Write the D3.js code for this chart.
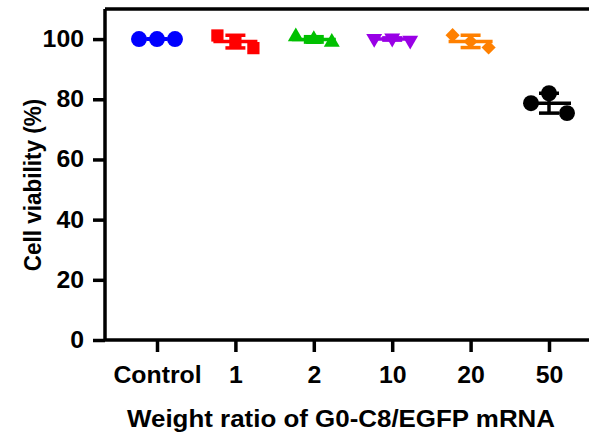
<!DOCTYPE html>
<html>
<head>
<meta charset="utf-8">
<script src="https://cdn.jsdelivr.net/npm/d3@7"></script>
<style>
  html, body { margin: 0; padding: 0; background: #fff; }
  svg { display: block; }
  text { font-family: "Liberation Sans", Arial, sans-serif; font-weight: bold; fill: #000; }
</style>
</head>
<body>
<svg id="chart" width="589" height="442"></svg>
<script>
// Cell viability (%) for each weight ratio, three replicates per group
const categories = ["Control", "1", "2", "10", "20", "50"];
const viability = [
  [100.0, 100.0, 100.0],
  [101.2, 99.3, 97.0],
  [100.8, 99.9, 99.0],
  [100.2, 100.3, 99.6],
  [101.3, 99.2, 97.2],
  [78.7, 82.0, 75.4]
];
const groupColors = ["#0000FF", "#FF0000", "#00C000", "#9900E6", "#FF8000", "#000000"];
const groupSymbols = ["circle", "square", "triangleUp", "triangleDown", "diamond", "circle"];
const yTicks = [0, 20, 40, 60, 80, 100];
const yMax = 110;
const xTitle = "Weight ratio of G0-C8/EGFP mRNA";
const yTitle = "Cell viability (%)";

const svg = d3.select("#chart");
const stretch = 1.08;          // horizontal text stretch
const left = 105, bottom = 340;

const x = d3.scalePoint().domain(categories).range([157, 549]);
const step = x.step();
const right = x(categories[categories.length - 1]) + step * 0.663;
const y = d3.scaleLinear().domain([0, yMax]).range([bottom, 9]);
const jitter = d3.scalePoint().domain([0, 1, 2]).range([-18, 18]);

// frame (top and right edges; right edge falls outside the canvas)
svg.append("path")
  .attr("d", `M${left},${y(yMax)}H${right}V${bottom}`)
  .attr("fill", "none").attr("stroke", "#000").attr("stroke-width", 3.5);

// y axis
const yAxis = svg.append("g").attr("transform", `translate(${left},0)`)
  .call(d3.axisLeft(y).tickValues(yTicks).tickSize(12).tickPadding(9).tickFormat(d3.format("d")));
yAxis.select(".domain").attr("stroke-width", 3.5).attr("d", `M0,${y(yMax)}V${bottom}`);
yAxis.selectAll(".tick line").attr("stroke-width", 3.5);
yAxis.selectAll(".tick text").each(function () {
  const t = d3.select(this);
  const tx = +t.attr("x");
  t.attr("x", null).attr("font-size", 23).attr("font-family", null)
    .attr("transform", `translate(${tx},0) scale(${stretch},1)`);
});

// x axis
const xAxis = svg.append("g").attr("transform", `translate(0,${bottom})`)
  .call(d3.axisBottom(x).tickSize(12).tickPadding(15));
xAxis.select(".domain").attr("stroke-width", 3.5).attr("d", `M${left},0H${right}`);
xAxis.selectAll(".tick line").attr("stroke-width", 3.5);
xAxis.selectAll(".tick text").each(function () {
  const t = d3.select(this);
  const ty = +t.attr("y");
  t.attr("y", null).attr("font-size", 23).attr("font-family", null)
    .attr("transform", `translate(0,${ty}) scale(${stretch},1)`);
});
svg.selectAll(".tick text").attr("fill", "#000");

// axis titles
svg.append("text")
  .attr("text-anchor", "middle").attr("font-size", 24)
  .attr("transform", `translate(341,427) scale(${stretch},1)`)
  .text(xTitle);
svg.append("text")
  .attr("text-anchor", "middle").attr("font-size", 22.5)
  .attr("transform", `translate(41,185) scale(${stretch},1) rotate(-90)`)
  .text(yTitle);

// marker shapes
function symbolPath(name) {
  switch (name) {
    case "circle": return d3.symbol(d3.symbolCircle, 200)();
    case "square": return d3.symbol(d3.symbolSquare, 150)();
    case "triangleUp": return d3.symbol(d3.symbolTriangle, 110)();
    case "triangleDown": return d3.symbol(d3.symbolTriangle, 110)();
    case "diamond": return d3.symbol(d3.symbolSquare, 100)();
  }
}
function symbolRotate(name) {
  if (name === "triangleDown") return 180;
  if (name === "diamond") return 45;
  return 0;
}

const groups = svg.append("g").selectAll("g")
  .data(categories.map((c, i) => ({
    cat: c, vals: viability[i], color: groupColors[i], sym: groupSymbols[i],
    mean: d3.mean(viability[i]), sd: d3.deviation(viability[i])
  })))
  .join("g")
  .attr("transform", d => `translate(${x(d.cat)},0)`);

// mean line and SD bars
groups.each(function (d) {
  const g = d3.select(this);
  const lw = 3.5;
  g.append("line").attr("x1", -22).attr("x2", 22)
    .attr("y1", y(d.mean)).attr("y2", y(d.mean))
    .attr("stroke", d.color).attr("stroke-width", lw);
  g.append("line").attr("x1", 0).attr("x2", 0)
    .attr("y1", y(d.mean + d.sd)).attr("y2", y(d.mean - d.sd))
    .attr("stroke", d.color).attr("stroke-width", lw);
  [d.mean + d.sd, d.mean - d.sd].forEach(v => {
    g.append("line").attr("x1", -10).attr("x2", 10)
      .attr("y1", y(v)).attr("y2", y(v))
      .attr("stroke", d.color).attr("stroke-width", lw);
  });
});

// replicate points
groups.selectAll("path.pt")
  .data(d => d.vals.map((v, j) => ({ v, j, color: d.color, sym: d.sym })))
  .join("path")
  .attr("class", "pt")
  .attr("d", p => symbolPath(p.sym))
  .attr("fill", p => p.color)
  .attr("transform", p => `translate(${jitter(p.j)},${y(p.v)}) rotate(${symbolRotate(p.sym)})`);
</script>
</body>
</html>
